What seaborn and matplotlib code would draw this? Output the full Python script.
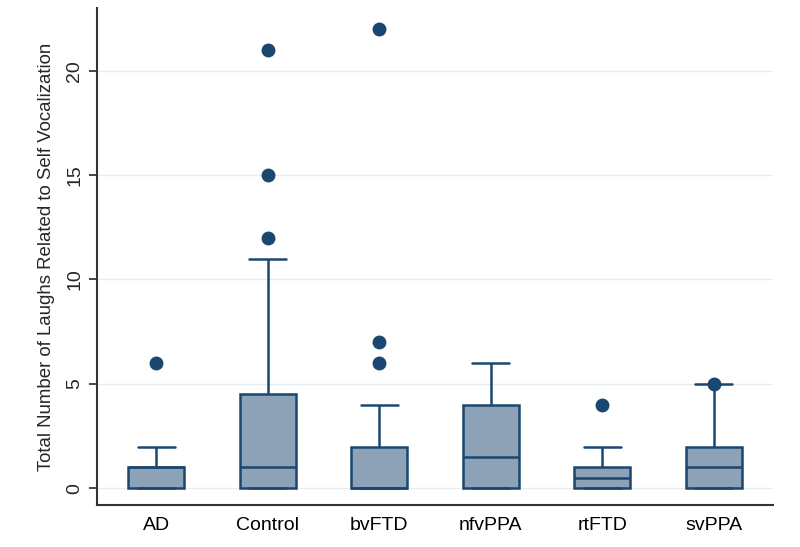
import matplotlib
matplotlib.use("Agg")
import matplotlib.pyplot as plt
import seaborn as sns
import pandas as pd

# diagnostic groups (x axis)
groups = ["AD", "Control", "bvFTD", "nfvPPA", "rtFTD", "svPPA"]

# laugh counts per group, chosen so the boxes match the figure
laughs_ad = [0, 0, 0, 0, 1, 1, 1, 1, 1, 1, 2, 6]
laughs_control = [0, 0, 0, 0, 0, 0, 1, 1, 1, 1, 2, 2, 3, 5, 11, 12, 15, 21]
laughs_bvftd = [0, 0, 0, 0, 0, 0, 0, 0, 0, 1, 1, 2, 2, 4, 6, 7, 22]
laughs_nfvppa = [0, 0, 0, 0, 1, 2, 4, 4, 5, 6]
laughs_rtftd = [0, 0, 0, 0, 0, 1, 1, 1, 2, 4]
laughs_svppa = [0, 0, 0, 0, 1, 1, 2, 2, 3, 5]

# points marked as outside values in the figure
outlier_groups = ["AD", "Control", "Control", "Control", "bvFTD", "bvFTD", "bvFTD", "rtFTD", "svPPA"]
outlier_values = [6, 12, 15, 21, 6, 7, 22, 4, 5]

yticks = [0, 5, 10, 15, 20]

box_fill = "#8DA1B7"
navy = "#1A476F"
grid_col = "#E3EEF1"

frames = []
for g, vals in zip(groups, [laughs_ad, laughs_control, laughs_bvftd,
                            laughs_nfvppa, laughs_rtftd, laughs_svppa]):
    frames.append(pd.DataFrame({"group": g, "laughs": vals}))
df = pd.concat(frames, ignore_index=True)

sns.set_style("white")
plt.rcParams["font.family"] = ["Liberation Sans", "DejaVu Sans"]

fig, ax = plt.subplots(figsize=(8, 5.47), dpi=100)
fig.subplots_adjust(left=97/800, right=773/800, top=1-8/547, bottom=1-505/547)

for y in yticks:
    ax.axhline(y, color=grid_col, lw=1, zorder=0)

sns.boxplot(data=df, x="group", y="laughs", order=groups, width=0.5,
            showfliers=False, color=box_fill, linecolor=navy, linewidth=1.8,
            saturation=1, capwidths=0.33, ax=ax)
sns.stripplot(x=outlier_groups, y=outlier_values, order=groups, jitter=False,
              color=navy, size=10, linewidth=0, ax=ax, zorder=5)

ax.set_xlim(-0.53, 5.53)
ax.set_ylim(-0.8, 23.0)
ax.set_yticks(yticks)
ax.set_xlabel("")
ax.set_ylabel("Total Number of Laughs Related to Self Vocalization", fontsize=13.4, labelpad=8)
ax.tick_params(axis="x", length=0, pad=9, labelsize=14, colors="#000000")
ax.tick_params(axis="y", length=6, width=1.2, pad=4, labelsize=14, direction="out", left=True)
for t in ax.get_yticklabels():
    t.set_rotation(90)
    t.set_va("center")

for s in ["top", "right"]:
    ax.spines[s].set_visible(False)
for s in ["left", "bottom"]:
    ax.spines[s].set_color("#333333")
    ax.spines[s].set_linewidth(1.5)

fig.savefig("out.png", dpi=100)
